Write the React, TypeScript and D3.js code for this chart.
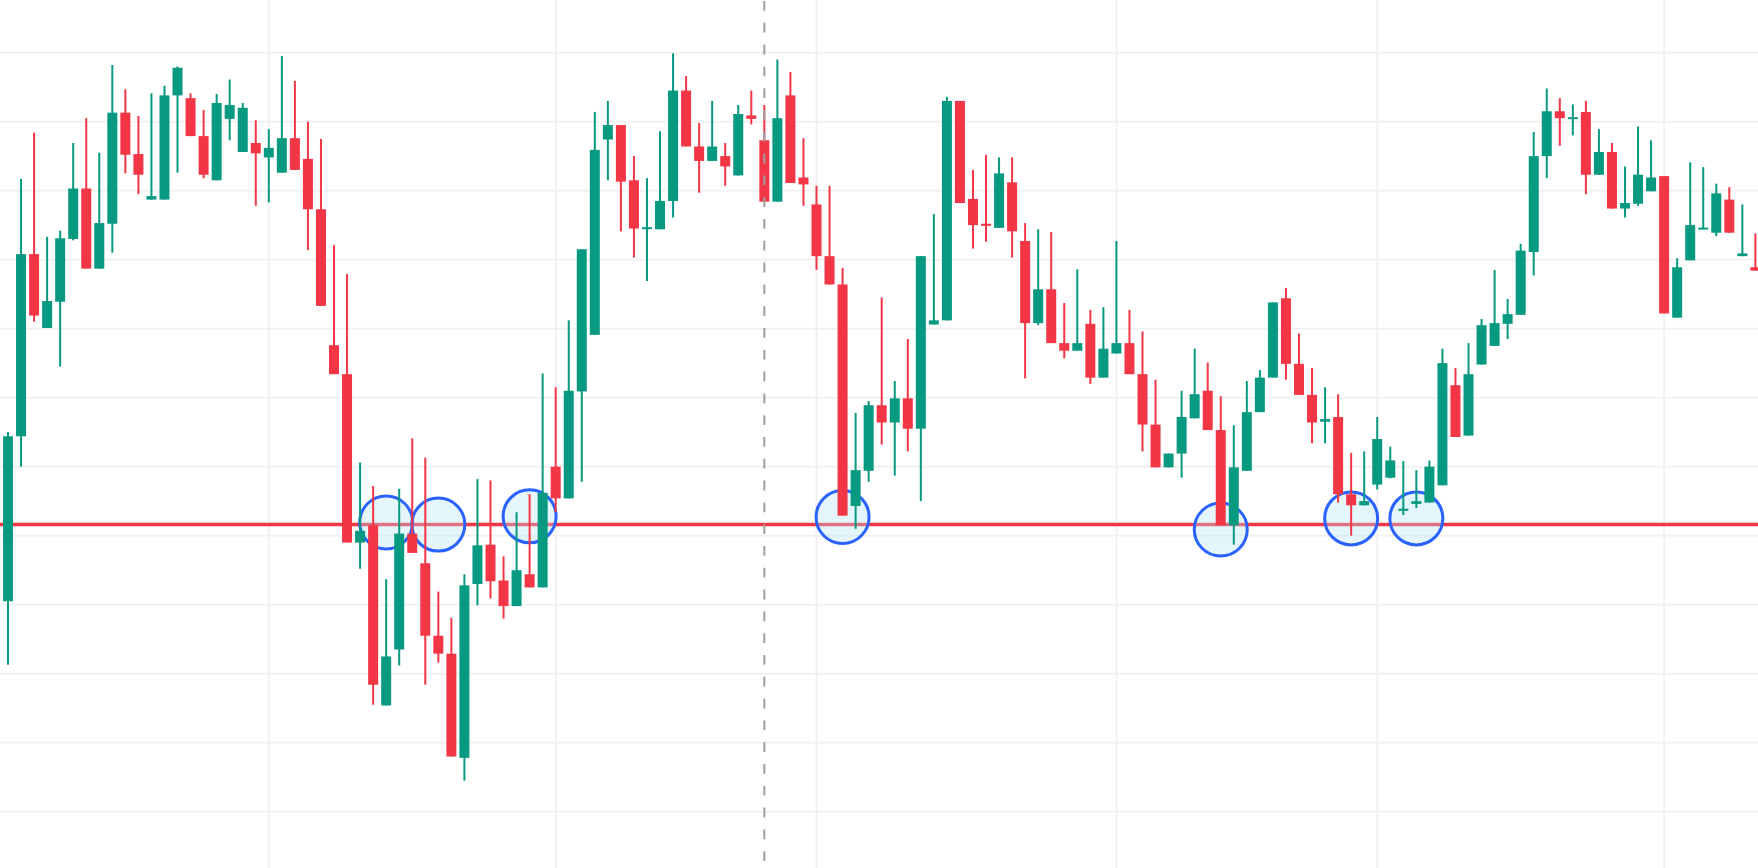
import React from "react";
import * as d3 from "d3";

const W = 1758;
const H = 868;

const opens = [130.5,154.4,180.8,170.1,173.9,183.0,190.3,178.7,185.2,201.3,195.3,188.7,188.7,203.8,203.4,197.9,191.5,200.4,195.6,196.9,194.8,192.6,197.6,194.6,187.3,167.6,163.4,139.0,141.5,115.4,123.5,140.3,136.0,125.5,122.9,107.8,133.0,138.7,133.5,129.8,134.4,132.5,150.0,145.4,160.9,169.1,197.4,199.5,191.5,184.5,184.4,188.5,204.5,196.4,194.3,195.0,192.2,200.9,197.3,188.4,203.8,191.9,188.0,180.5,176.4,144.3,149.4,158.9,156.4,159.9,155.5,170.6,171.2,203.0,188.8,185.2,184.6,191.2,182.7,170.8,175.7,167.9,166.8,170.7,162.9,166.4,167.9,163.4,156.1,149.9,151.9,157.0,161.0,155.3,141.5,149.4,157.9,162.9,174.4,164.9,160.4,156.5,157.2,146.0,144.4,147.4,148.4,143.6,144.6,144.8,147.3,161.8,154.5,164.8,167.5,170.7,172.0,181.1,195.0,201.5,200.4,201.4,192.3,195.6,187.4,188.1,189.9,192.1,171.6,179.9,184.4,183.9,188.7,180.5,178.9];
const highs = [155.0,191.7,198.4,183.3,184.2,196.9,200.5,195.5,208.2,204.7,200.8,204.1,205.2,208.0,204.1,201.7,204.0,206.1,202.7,200.2,198.9,209.5,205.9,200.0,197.5,182.1,177.9,150.6,147.2,133.7,146.8,154.1,151.3,131.9,128.1,134.4,148.2,148.0,137.0,143.4,146.0,163.5,161.5,171.2,181.5,201.4,203.0,199.5,195.0,191.8,198.6,209.9,206.6,199.8,203.0,196.9,202.4,204.5,202.4,209.0,207.2,197.6,190.7,190.7,178.8,157.8,159.5,174.5,162.4,168.5,180.5,186.6,203.6,203.0,193.0,195.2,194.8,194.8,185.3,184.4,184.0,173.7,178.6,172.7,173.1,182.7,172.7,169.6,162.6,151.9,161.0,167.1,165.1,160.2,156.0,162.4,164.0,173.8,175.9,169.3,164.3,161.5,160.5,152.0,152.2,157.2,152.9,150.8,149.5,150.9,167.1,164.3,167.9,171.4,178.5,174.3,182.3,198.5,204.8,203.4,202.5,203.0,198.9,196.9,193.5,199.3,197.3,192.1,180.2,194.1,193.4,191.0,190.5,188.0,183.8];
const lows = [121.3,150.0,171.0,170.1,164.5,182.8,178.7,178.7,181.0,192.5,189.5,188.7,188.7,192.6,197.9,191.8,191.5,197.3,195.6,187.8,188.3,192.6,193.0,181.4,173.3,163.4,139.0,135.2,115.5,115.4,121.2,137.5,118.4,121.6,108.0,104.5,129.9,130.9,128.0,129.8,132.5,132.5,143.4,145.4,147.8,169.1,191.5,184.1,180.3,176.9,184.4,186.1,196.4,189.7,194.3,190.7,192.2,199.6,188.4,188.4,191.1,187.8,178.5,176.4,142.9,141.0,147.8,153.2,148.7,152.2,145.0,170.6,171.2,188.2,181.6,182.6,184.6,180.3,162.8,170.5,167.9,165.7,166.8,162.0,162.9,166.4,163.4,152.2,149.9,149.9,148.4,157.0,155.3,141.5,138.7,149.4,157.9,162.9,162.6,160.4,153.4,153.4,144.8,140.0,144.4,146.7,148.3,143.0,144.0,144.8,147.3,154.3,154.5,164.8,167.5,168.5,172.0,177.7,191.8,196.5,198.0,189.5,192.3,187.4,186.1,187.8,189.9,172.2,171.6,179.9,184.4,183.4,183.9,180.5,178.4];
const closes = [154.4,180.8,171.9,174.0,183.1,190.3,178.7,185.3,201.3,195.2,192.3,189.2,203.8,207.8,197.9,192.3,202.7,202.4,202.0,195.4,196.2,197.6,193.0,187.3,173.3,163.4,139.0,140.7,118.4,122.5,140.3,137.5,125.5,122.9,108.0,132.8,138.6,133.4,129.8,135.0,132.5,146.2,145.4,161.0,181.5,195.9,199.5,191.3,184.5,184.6,188.5,204.5,196.4,194.3,196.4,193.5,201.1,200.4,188.4,200.5,191.1,190.9,180.5,176.4,142.9,149.5,158.9,156.4,159.9,155.5,180.5,171.2,203.0,188.2,185.0,184.9,192.5,184.1,170.8,175.7,167.9,166.8,167.9,162.9,167.1,167.9,163.4,156.1,149.9,151.9,157.2,160.5,155.3,141.5,149.9,157.9,162.9,173.8,164.9,160.4,156.4,156.9,146.0,144.4,145.0,154.0,150.9,143.9,145.0,150.0,165.0,154.3,163.4,170.5,170.8,172.1,181.3,195.0,201.5,200.5,200.6,192.3,195.6,187.4,188.2,192.3,191.9,172.2,178.9,185.0,184.6,189.6,183.9,180.9,178.4];

// horizontal price grid levels
const priceTicks = [100, 110, 120, 130, 140, 150, 160, 170, 180, 190, 200, 210];
// candle indices that carry the (hidden) time-axis ticks
const timeTickIndices = [20, 42, 62, 85, 105, 127];
// dashed vertical marker
const markerIndex = 58;
// support level
const supportLevel = 141.6;
// touch circles: candle index and price
const touchIndices = [29, 33, 40, 64, 93, 103, 108];
const touchPrices = [141.9, 141.6, 142.8, 142.7, 140.9, 142.5, 142.5];

const UP = "#089981";
const DOWN = "#F23645";

export default function App() {
  const n = opens.length;
  const x = d3.scaleLinear().domain([0, n - 1]).range([8, 1755.4]);
  const y = d3.scaleLinear().domain([100, 210]).range([811.7, 52.6]);
  const bodyW = 10;
  const wickW = 2;

  const candles = d3.range(n).map((i) => {
    const o = opens[i], c = closes[i], h = highs[i], l = lows[i];
    const up = c >= o;
    const cx = x(i);
    const yTop = y(Math.max(o, c));
    const yBot = y(Math.min(o, c));
    const bh = Math.max(yBot - yTop, 2);
    const color = up ? UP : DOWN;
    return (
      <g key={i}>
        <rect x={cx - wickW / 2} y={y(h)} width={wickW} height={Math.max(y(l) - y(h), 1)} fill={color} />
        <rect x={cx - bodyW / 2} y={bh === 2 ? (yTop + yBot) / 2 - 1 : yTop} width={bodyW} height={bh} fill={color} />
      </g>
    );
  });

  return (
    <svg
      width={W}
      height={H}
      viewBox={`0 0 ${W} ${H}`}
      style={{ position: "absolute", left: 0, top: 0, display: "block", background: "#ffffff" }}
    >
      <rect x={0} y={0} width={W} height={H} fill="#ffffff" />
      <g>
        {priceTicks.map((p) => (
          <line key={"h" + p} x1={0} x2={W} y1={y(p)} y2={y(p)} stroke="#F0F0F0" strokeWidth={1.8} />
        ))}
        {timeTickIndices.map((i) => (
          <line key={"v" + i} x1={x(i)} x2={x(i)} y1={0} y2={H} stroke="#F0F0F0" strokeWidth={1.8} />
        ))}
      </g>
      <line x1={0} x2={W} y1={y(supportLevel)} y2={y(supportLevel)} stroke={DOWN} strokeWidth={3.5} />
      <g>
        {touchIndices.map((i, k) => (
          <circle
            key={"c" + k}
            cx={x(i)}
            cy={y(touchPrices[k])}
            r={26.5}
            fill="rgba(178,228,245,0.35)"
            stroke="#2962FF"
            strokeWidth={3}
          />
        ))}
      </g>
      <g>{candles}</g>
      <line
        x1={x(markerIndex)}
        x2={x(markerIndex)}
        y1={0}
        y2={H}
        stroke="#9E9E9E"
        strokeWidth={2}
        strokeDasharray="9.8 12"
        strokeDashoffset={-1}
      />
    </svg>
  );
}
